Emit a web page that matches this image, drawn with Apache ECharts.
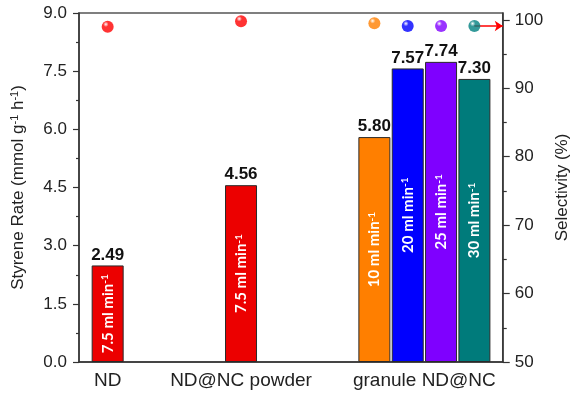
<!DOCTYPE html>
<html>
<head>
<meta charset="utf-8">
<script src="https://cdn.jsdelivr.net/npm/echarts@6/dist/echarts.min.js"></script>
<style>
  html, body { margin: 0; padding: 0; background: #fff; }
  #chart { width: 579px; height: 397px; }
</style>
</head>
<body>
<div id="chart"></div>
<script>
// data
const groups = ['ND', 'ND@NC powder', 'granule ND@NC'];
const sampleGroup = [0, 1, 2, 2, 2, 2];
const flowRates = ['7.5', '7.5', '10', '20', '25', '30'];
const styreneRate = [2.49, 4.56, 5.80, 7.57, 7.74, 7.30];
const selectivity = [99.0, 99.8, 99.5, 99.1, 99.1, 99.1];
const rateTicks = [0, 1.5, 3.0, 4.5, 6.0, 7.5, 9.0];
const selTicks = [50, 60, 70, 80, 90, 100];

const barColors = ['#ec0000', '#ec0000', '#ff7f00', '#0000ff', '#7f00ff', '#007b7b'];
const dotColors = ['#ff0000', '#ff0000', '#ff7f00', '#0000ff', '#8000ff', '#008080'];

// each group takes 4 slots on the x axis, bars of one group sit side by side
const GROUP_SLOTS = 4;
const slots = sampleGroup.map((g, i) => g * GROUP_SLOTS + (i - sampleGroup.indexOf(g)));
const groupCenters = groups.map((_, g) => {
  const s = slots.filter((v, i) => sampleGroup[i] === g);
  return s.reduce((a, b) => a + b, 0) / s.length;
});
const selMinor = selTicks.slice(1).map((v, i) => (v + selTicks[i]) / 2);

const X_MIN = -0.86, X_MAX = 11.85;
const FONT = '"Liberation Sans", Arial, sans-serif';
const AXIS_COLOR = '#333';

function sphere(c) {
  return new echarts.graphic.RadialGradient(0.35, 0.3, 0.75, [
    { offset: 0, color: '#ffffff' },
    { offset: 0.3, color: c },
    { offset: 1, color: c }
  ]);
}

var myChart = echarts.init(document.getElementById('chart'));

var option = {
  animation: false,
  grid: {
    left: 79, right: 67, top: 13, bottom: 35,
    show: true, borderColor: '#555', borderWidth: 1.5
  },
  xAxis: {
    type: 'value',
    min: X_MIN,
    max: X_MAX,
    axisLine: { show: true, onZero: false, lineStyle: { color: AXIS_COLOR, width: 1.5 } },
    axisTick: { show: false },
    splitLine: { show: false },
    axisLabel: {
      customValues: groupCenters,
      formatter: v => {
        const k = groupCenters.findIndex(c => Math.abs(c - v) < 1e-6);
        return k < 0 ? '' : groups[k];
      },
      fontSize: 19, fontFamily: FONT, color: '#222', margin: 9
    }
  },
  yAxis: [
    {
      type: 'value',
      position: 'left',
      min: rateTicks[0],
      max: rateTicks[rateTicks.length - 1],
      interval: rateTicks[1] - rateTicks[0],
      name: '{t|Styrene Rate (mmol g}{s|-1}{t| h}{s|-1}{t|)}',
      nameLocation: 'middle',
      nameGap: 52,
      nameRotate: 90,
      nameTextStyle: {
        rich: {
          t: { fontSize: 17, fontFamily: FONT, color: '#222' },
          s: { fontSize: 11, fontFamily: FONT, color: '#222', verticalAlign: 'top', padding: [0, 0, 7, 0] }
        }
      },
      axisLine: { show: true, onZero: false, lineStyle: { color: AXIS_COLOR, width: 1.5 } },
      axisTick: { show: true, length: 6, lineStyle: { color: AXIS_COLOR, width: 1.2 } },
      minorTick: { show: true, splitNumber: 2, length: 3, lineStyle: { color: AXIS_COLOR, width: 1.2 } },
      splitLine: { show: false },
      axisLabel: {
        formatter: v => v.toFixed(1),
        fontSize: 17, fontFamily: FONT, color: '#222', margin: 12
      }
    },
    {
      type: 'value',
      position: 'right',
      min: selTicks[0],
      max: 101,
      interval: selTicks[1] - selTicks[0],
      name: 'Selectivity (%)',
      nameLocation: 'middle',
      nameGap: 46,
      nameRotate: 90,
      nameTextStyle: { fontSize: 17, fontFamily: FONT, color: '#222' },
      axisLine: { show: true, onZero: false, lineStyle: { color: AXIS_COLOR, width: 1.5 } },
      axisTick: { show: true, customValues: selTicks, length: 7, lineStyle: { color: AXIS_COLOR, width: 1.2 } },
      splitLine: { show: false },
      axisLabel: {
        customValues: selTicks,
        fontSize: 17, fontFamily: FONT, color: '#222', margin: 12
      }
    },
    {
      // minor ticks of the selectivity axis
      type: 'value',
      position: 'right',
      min: selTicks[0],
      max: 101,
      axisLine: { show: false, onZero: false },
      axisTick: { show: true, customValues: selMinor, length: 4, lineStyle: { color: AXIS_COLOR, width: 1.2 } },
      axisLabel: { show: false },
      splitLine: { show: false }
    }
  ],
  series: [
    {
      name: 'rate',
      type: 'bar',
      yAxisIndex: 0,
      barWidth: 32,
      barGap: '-100%',
      data: slots.map((s, i) => ({
        value: [s, styreneRate[i]],
        itemStyle: { color: barColors[i] }
      })),
      itemStyle: { borderColor: '#2a2a2a', borderWidth: 1 },
      label: {
        show: true,
        position: 'top',
        distance: 2,
        formatter: p => p.value[1].toFixed(2),
        fontSize: 17, fontWeight: 'bold', fontFamily: FONT, color: '#111'
      },
      z: 2
    },
    {
      name: 'flow',
      type: 'bar',
      yAxisIndex: 0,
      barWidth: 32,
      barGap: '-100%',
      data: slots.map((s, i) => [s, styreneRate[i]]),
      itemStyle: { color: 'rgba(0,0,0,0)' },
      label: {
        show: true,
        position: 'inside',
        rotate: 90,
        formatter: p => '{t|' + flowRates[p.dataIndex] + ' ml min}{s|-1}',
        rich: {
          t: { fontSize: 15, fontWeight: 'bold', fontFamily: 'Lato, sans-serif', color: '#fff' },
          s: { fontSize: 10, fontWeight: 'bold', fontFamily: 'Lato, sans-serif', color: '#fff', verticalAlign: 'top' }
        }
      },
      z: 3
    },
    {
      name: 'arrow',
      type: 'line',
      yAxisIndex: 1,
      data: [],
      z: 4,
      markLine: {
        silent: true,
        symbol: ['none', 'arrow'],
        symbolSize: 8,
        lineStyle: { color: '#ff0000', width: 1.5, type: 'solid' },
        label: { show: false },
        data: [[
          { coord: [slots[slots.length - 1], selectivity[selectivity.length - 1]] },
          { coord: [X_MAX, selectivity[selectivity.length - 1]] }
        ]]
      }
    },
    {
      name: 'selectivity',
      type: 'scatter',
      yAxisIndex: 1,
      symbolSize: 12,
      data: slots.map((s, i) => ({
        value: [s, selectivity[i]],
        itemStyle: { color: sphere(dotColors[i]) }
      })),
      z: 6
    }
  ]
};

myChart.setOption(option);
</script>
</body>
</html>
